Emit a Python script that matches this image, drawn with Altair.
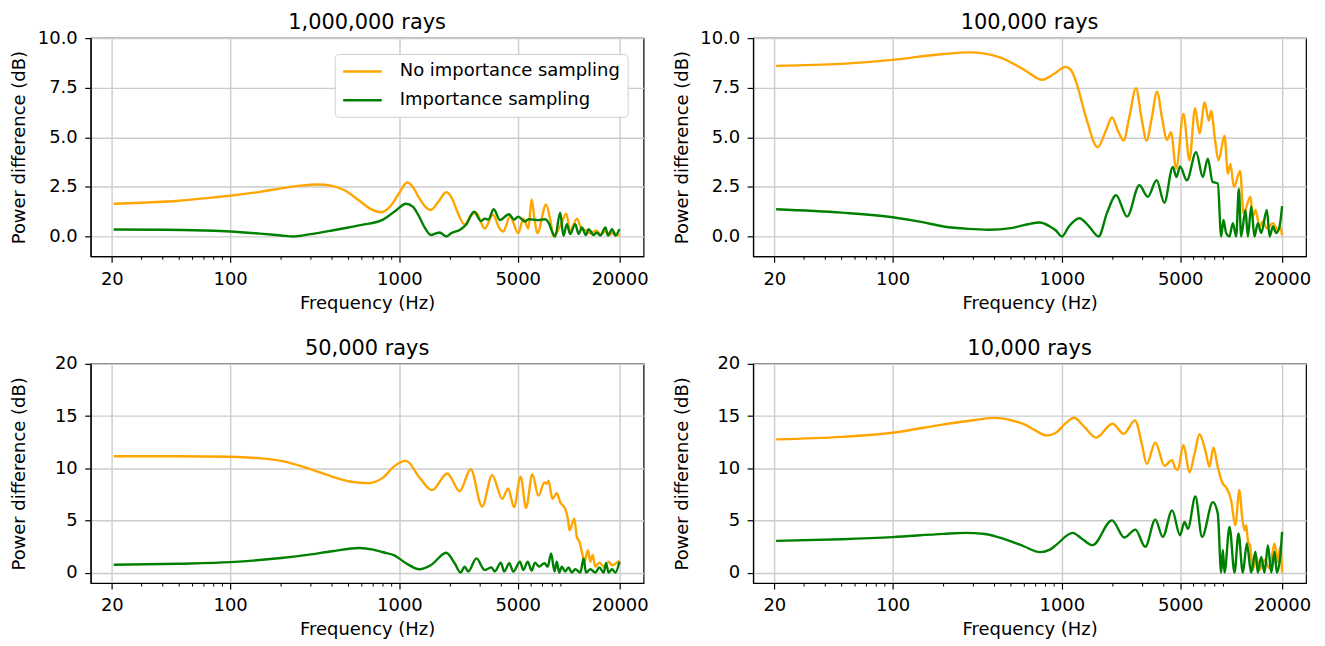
import altair as alt
import pandas as pd

SERIES = ["No importance sampling", "Importance sampling"]
COLORS = ["orange", "green"]
X_TICKS = [20, 100, 1000, 5000, 20000]
X_MINOR = [30, 40, 50, 60, 70, 80, 90, 200, 300, 400, 500, 600, 700, 800, 900,
           2000, 3000, 4000, 6000, 7000, 8000, 9000]
TITLES = ["1,000,000 rays", "100,000 rays", "50,000 rays", "10,000 rays"]

# ---- 1,000,000 rays ----
p1_no_f = [20.5, 30, 50, 70, 100, 150, 200, 260, 330, 400, 480, 580, 680, 780, 880, 1000, 1110, 1200,
           1285, 1420, 1530, 1700, 1890, 2050, 2170, 2432, 2640, 2850, 3000, 3190, 3580, 3850, 4105,
           4500, 5040, 5400, 5780, 6040, 6300, 6530, 7350, 7800, 8130, 9000, 9670, 10200, 11190,
           11980, 12700, 13500, 14500, 15500, 16500, 17500, 18500, 19300, 20000]
p1_no_v = [1.65, 1.7, 1.8, 1.92, 2.05, 2.25, 2.42, 2.56, 2.62, 2.55, 2.3, 1.8, 1.38, 1.22, 1.5, 2.2, 2.72, 2.5,
           2.05, 1.5, 1.33, 1.75, 2.23, 1.9, 1.37, 0.6, 1.05, 1.2, 0.8, 0.4, 1.1, 0.5, 0.25,
           1.0, 0.17, 0.9, 0.4, 1.87, 0.8, 0.17, 1.6, 0.8, 0.0, 0.6, 1.15, 0.3, 0.9,
           0.35, 0.3, 0.15, 0.3, 0.1, 0.25, 0.1, 0.2, 0.05, 0.1]
p1_is_f = [20.5, 40, 70, 100, 150, 200, 237, 300, 400, 500, 600, 800, 950, 1095, 1200, 1285, 1400, 1540,
           1640, 1727, 1890, 2030, 2270, 2490, 2760, 3030, 3200, 3350, 3610, 3920, 4440, 4750, 5040,
           5500, 5800, 6620, 7260, 7700, 7950, 8320, 8910, 9310, 9750, 10200, 10940, 11440, 11970,
           12640, 13110, 14040, 14690, 15380, 16470, 17080, 18030, 18880, 19950]
p1_is_v = [0.35, 0.34, 0.3, 0.25, 0.14, 0.05, 0.0, 0.12, 0.3, 0.45, 0.58, 0.85, 1.3, 1.65, 1.5, 1.12, 0.5, 0.07,
           0.15, 0.2, 0.0, 0.17, 0.33, 0.62, 1.25, 0.78, 0.9, 0.85, 1.37, 0.83, 1.12, 0.85, 1.0,
           0.75, 0.87, 0.82, 0.87, 0.6, 0.28, 0.0, 1.2, 0.03, 0.62, 0.12, 0.62, 0.12, 0.45,
           0.07, 0.37, 0.07, 0.2, 0.05, 0.45, 0.05, 0.37, 0.05, 0.37]

# ---- 100,000 rays ----
p2_no_f = [20.5, 50, 100, 200, 286, 430, 600, 766, 900, 1050, 1130, 1210, 1388, 1626, 1820, 1977, 2150,
           2317, 2500, 2743, 2950, 3165, 3400, 3650, 3900, 4180, 4415, 4730, 5230, 5670, 6120, 6500,
           6980, 7380, 7620, 8000, 8420, 9140, 9560, 9900, 10380, 11300, 11830, 13010, 13430, 13930,
           14720, 15390, 16300, 17660, 18890, 19500, 20000]
p2_no_v = [8.6, 8.7, 8.9, 9.2, 9.28, 9.03, 8.4, 7.9, 8.2, 8.55, 8.4, 7.83, 6.0, 4.5, 5.33, 6.0, 5.3,
           4.83, 6.0, 7.47, 6.0, 4.83, 6.0, 7.3, 6.0, 4.87, 5.25, 3.42, 6.17, 3.83, 6.47, 5.2,
           6.75, 5.83, 6.33, 5.0, 3.83, 5.08, 3.17, 3.66, 2.5, 3.3, 1.17, 2.0, 1.0, 1.33,
           0.5, 0.75, 0.4, 0.67, 0.3, 0.5, 0.05]
p2_is_f = [20.5, 50, 100, 150, 200, 280, 370, 500, 620, 740, 850, 922, 1000, 1100, 1266, 1450, 1648, 1850,
           2090, 2427, 2870, 3215, 3630, 4030, 4520, 4750, 4990, 5470, 6210, 6800, 7280, 7770, 8340,
           8730, 9010, 9340, 9770, 10230, 10710, 11100, 11460, 12150, 12550, 13140, 13740, 14380,
           15050, 16260, 16870, 17660, 18460, 19320, 20000]
p2_is_v = [1.37, 1.2, 0.97, 0.72, 0.5, 0.38, 0.34, 0.42, 0.6, 0.7, 0.5, 0.3, 0.0, 0.5, 0.92, 0.5, 0.0, 1.2,
           2.08, 1.0, 2.58, 2.0, 2.83, 1.7, 3.5, 3.0, 3.53, 2.83, 4.25, 3.0, 3.92, 2.75, 2.67,
           0.0, 0.83, 0.17, 0.0, 0.67, 0.0, 2.4, 0.0, 1.33, 0.0, 1.5, 0.0, 0.67,
           0.17, 1.33, 0.0, 0.5, 0.17, 0.5, 1.53]

# ---- 50,000 rays ----
p3_no_f = [20.5, 50, 100, 150, 200, 300, 400, 520, 652, 800, 934, 1095, 1315, 1557, 1918, 2270, 2637,
           3080, 3534, 4048, 4393, 4750, 5200, 5600, 6100, 6620, 7190, 7400, 7600, 8020, 8510, 8910,
           9540, 9890, 10120, 10790, 11170, 11580, 12070, 12410, 12990, 13420, 13850, 14370, 15170,
           16090, 17220, 18030, 18880, 19950]
p3_no_v = [11.15, 11.15, 11.1, 10.95, 10.7, 9.9, 9.2, 8.7, 8.57, 9.1, 10.2, 10.7, 9.1, 7.9, 9.5, 7.8, 9.9,
           6.33, 9.34, 7.06, 8.07, 6.27, 9.18, 6.2, 9.43, 7.37, 8.64, 8.5, 8.8, 7.06, 7.6, 6.74,
           6.1, 5.16, 4.05, 5.16, 3.42, 2.94, 1.68, 1.04, 2.15, 1.04, 1.68, 0.57, 0.95,
           0.57, 1.04, 0.7, 0.85, 1.14]
p3_is_f = [20.5, 50, 100, 200, 300, 400, 580, 700, 800, 934, 1095, 1315, 1540, 1890, 2120, 2300, 2430,
           2545, 2852, 3192, 3497, 3662, 3973, 4160, 4455, 4706, 5154, 5397, 5726, 6045, 6329, 6684,
           7189, 7522, 7875, 8245, 8511, 8786, 9104, 9531, 9977, 10445, 10934, 11710, 12259, 12651,
           13420, 14370, 15170, 16090, 16620, 17220, 18030, 18880, 19950]
p3_is_v = [0.75, 0.85, 1.0, 1.4, 1.75, 2.05, 2.35, 2.2, 1.95, 1.65, 0.89, 0.32, 0.73, 1.9, 0.89, 0.0, 0.57,
           0.1, 1.36, 0.25, 0.5, 0.1, 0.95, 0.1, 0.89, 0.1, 1.04, 0.25, 1.04, 0.19, 0.95, 0.57,
           0.89, 0.57, 1.84, 0.1, 1.04, 0.0, 0.57, 0.1, 0.5, 0.0, 0.32, 0.0, 1.36, 0.0,
           0.32, 0.0, 0.5, 0.0, 0.89, 0.0, 0.32, 0.0, 1.04]

# ---- 10,000 rays ----
p4_no_f = [20.5, 50, 100, 200, 300, 405, 500, 600, 700, 811, 922, 1050, 1183, 1350, 1589, 1995, 2317,
           2704, 2970, 3170, 3565, 4040, 4480, 4650, 4830, 5230, 5670, 6100, 6500, 7050, 7440, 7860,
           8340, 8940, 9340, 10000, 10570, 11200, 11610, 11990, 12270, 12550, 12960, 13430, 14050,
           14720, 15750, 16870, 18050, 18890, 19490, 20000]
p4_no_v = [12.76, 13.0, 13.4, 14.2, 14.6, 14.82, 14.6, 14.2, 13.6, 13.14, 13.4, 14.3, 14.83, 14.0, 12.93,
           14.26, 13.3, 14.58, 12.3, 10.4, 12.46, 10.24, 10.78, 10.08, 9.83, 12.23, 9.6, 11.5, 13.25,
           11.66, 10.14, 11.98, 10.08, 8.5, 8.18, 6.9, 4.53, 7.92, 5.3, 4.06, 4.53, 3.1, 2.47, 0.25,
           1.52, 0.3, 1.2, 0.4, 2.79, 1.0, 2.47, 0.0]
p4_is_f = [20.5, 50, 100, 200, 270, 350, 400, 500, 600, 743, 850, 922, 1157, 1300, 1518, 1977, 2340,
           2718, 3110, 3565, 3945, 4480, 4990, 5300, 5550, 6150, 6730, 7800, 8340, 8730, 8930, 9140,
           9780, 10470, 11050, 11720, 12380, 13130, 13920, 14370, 15050, 15750, 16490, 17260, 18050,
           18620, 19490, 20000]
p4_is_v = [3.04, 3.2, 3.4, 3.71, 3.8, 3.7, 3.5, 3.0, 2.5, 1.96, 2.2, 2.63, 3.8, 3.3, 2.63, 5.0, 3.36,
           4.12, 2.47, 5.07, 3.42, 5.96, 3.58, 4.85, 4.2, 7.29, 3.42, 6.75, 5.64, 0.0, 2.16, 0.0,
           4.37, 0.0, 3.74, 0.0, 2.79, 0.0, 2.0, 0.0, 1.5, 0.0, 2.63, 0.0, 2.0,
           0.0, 1.5, 3.9]

FONT = "DejaVu Sans"
PANEL_W = 555


def panel(idx, nf, nv, isf, isv, ymax, yticks, yfmt, h, legend):
    df_no = pd.DataFrame({"freq": nf, "val": nv, "series": SERIES[0]})
    df_is = pd.DataFrame({"freq": isf, "val": isv, "series": SERIES[1]})
    xs = alt.Scale(type="log", domain=[15, 27700], nice=False)
    ys = alt.Scale(domain=[-1, ymax], nice=False, zero=False)
    xax = alt.Axis(values=X_TICKS, format="d", title="Frequency (Hz)", labelPadding=8,
                   titlePadding=6, labelFlush=False)
    yax = alt.Axis(values=yticks, format=yfmt, title="Power difference (dB)", labelPadding=7.5,
                   minExtent=54, maxExtent=54, titlePadding=8)
    if legend:
        cscale = alt.Scale(domain=SERIES, range=COLORS)
        leg = alt.Legend(orient="top-right", offset=16, symbolType="M-2.15,0L2.15,0", symbolSize=324,
                         symbolStrokeWidth=2.5, symbolOffset=10.3, labelFontSize=18, labelFont=FONT,
                         labelColor="black", padding=7, rowPadding=9, strokeColor="#d0d0d0",
                         cornerRadius=4, fillColor="white", labelOffset=27, labelLimit=400)
        c_no = alt.Color("series:N", scale=cscale, legend=leg, title=None)
        c_is = alt.Color("series:N", scale=cscale, legend=leg, title=None)
    else:
        c_no = alt.value(COLORS[0])
        c_is = alt.value(COLORS[1])
    base_x = alt.X("freq:Q", scale=xs, axis=xax)
    base_y = alt.Y("val:Q", scale=ys, axis=yax)
    l_no = alt.Chart(df_no).mark_line(strokeWidth=2.4, interpolate="monotone").encode(
        x=base_x, y=base_y, color=c_no)
    l_is = alt.Chart(df_is).mark_line(strokeWidth=2.4, interpolate="monotone").encode(
        x=base_x, y=base_y, color=c_is)
    minor = alt.Chart(pd.DataFrame({"freq": X_MINOR})).mark_rule(color="black", strokeWidth=1).encode(
        x=alt.X("freq:Q", scale=xs, axis=xax),
        y=alt.value(h), y2=alt.value(h + 3.5))
    return alt.layer(l_no, l_is, minor).properties(
        width=PANEL_W, height=h,
        title=alt.TitleParams(TITLES[idx], fontSize=21, font=FONT, fontWeight="normal",
                              color="black", offset=-4, anchor="middle"))


c1 = panel(0, p1_no_f, p1_no_v, p1_is_f, p1_is_v, 10, [0, 2.5, 5, 7.5, 10], ".1f", 219, True)
c2 = panel(1, p2_no_f, p2_no_v, p2_is_f, p2_is_v, 10, [0, 2.5, 5, 7.5, 10], ".1f", 219, False)
c3 = panel(2, p3_no_f, p3_no_v, p3_is_f, p3_is_v, 20, [0, 5, 10, 15, 20], "d", 220, False)
c4 = panel(3, p4_no_f, p4_no_v, p4_is_f, p4_is_v, 20, [0, 5, 10, 15, 20], "d", 220, False)

top = alt.hconcat(c1, c2, spacing=23).resolve_scale(color="independent")
bottom = alt.hconcat(c3, c4, spacing=23).resolve_scale(color="independent")
chart = alt.vconcat(top, bottom, spacing=24).resolve_scale(color="independent").properties(
    padding={"left": 2, "top": 2, "right": 5, "bottom": 5}
).configure(font=FONT).configure_view(
    stroke="black", strokeWidth=1.2
).configure_axis(
    domainColor="black", domainWidth=1.2, tickColor="black", tickSize=6, tickWidth=1.2,
    labelFontSize=18, labelFont=FONT, labelColor="black", titleFontSize=18, titleFont=FONT,
    titleFontWeight="normal", titleColor="black", gridColor="#cccccc", gridWidth=1.4
)

chart.save("out.html", embed_options={"renderer": "svg", "actions": False})
